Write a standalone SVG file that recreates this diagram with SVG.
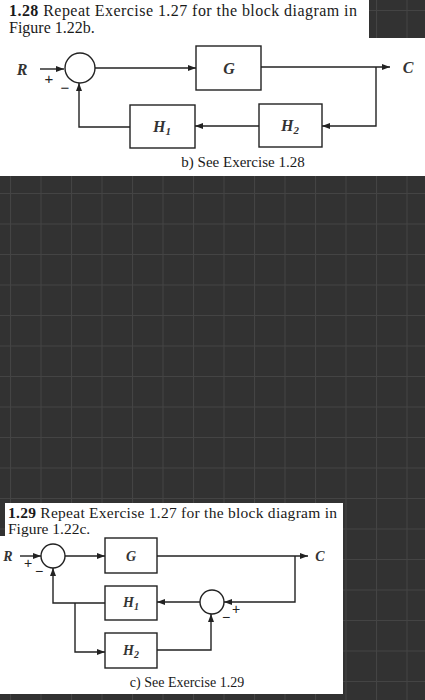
<svg xmlns="http://www.w3.org/2000/svg" width="425" height="700" viewBox="0 0 425 700">
<defs>
<pattern id="grid" x="10" y="10" width="30.5" height="30.5" patternUnits="userSpaceOnUse">
<rect width="30.5" height="30.5" fill="#323232"/>
<path d="M0,0 V30.5 M0,0 H30.5" stroke="#444" stroke-width="2"/>
</pattern>
<marker id="arr" markerUnits="userSpaceOnUse" markerWidth="9" markerHeight="7" refX="8" refY="3" orient="auto">
<path d="M0,0 L8,3 L0,6 z" fill="#222"/>
</marker>
</defs>
<style>
.w{fill:#fff}
.ln{fill:none;stroke:#222;stroke-width:1.4}
.box{fill:#fff;stroke:#222;stroke-width:1.4}
.t{font-family:"Liberation Serif",serif;fill:#1a1a1a}
.lab{font-family:"Liberation Serif",serif;font-style:italic;font-weight:bold;fill:#333;text-anchor:middle}
.sg{font-family:"Liberation Sans",sans-serif;fill:#222;text-anchor:middle}
</style>
<rect width="425" height="700" fill="url(#grid)"/>

<!-- top panel -->
<rect class="w" x="0" y="0" width="369" height="39"/>
<rect class="w" x="0" y="38" width="425" height="138"/>
<text class="t" x="9" y="16" font-size="16" textLength="348" lengthAdjust="spacing"><tspan font-weight="bold">1.28</tspan>  Repeat Exercise 1.27 for the block diagram in</text>
<text class="t" x="9" y="33" font-size="16">Figure 1.22b.</text>

<g id="connectors-b">
<line class="ln" x1="40" y1="69" x2="64" y2="69" marker-end="url(#arr)"/>
<line class="ln" x1="95" y1="68" x2="196" y2="68" marker-end="url(#arr)"/>
<line class="ln" x1="261" y1="67" x2="390" y2="67" marker-end="url(#arr)"/>
<polyline class="ln" points="376,67 376,126 322,126" marker-end="url(#arr)"/>
<line class="ln" x1="259" y1="126" x2="195" y2="126" marker-end="url(#arr)"/>
<polyline class="ln" points="130,127 79,127 79,83" marker-end="url(#arr)"/>
</g>
<g id="sum-b">
<circle class="box" cx="80" cy="68" r="15"/>
<text class="sg" x="49" y="84" font-size="15">+</text>
<text class="sg" x="65" y="93" font-size="15">−</text>
</g>
<g id="R-b"><text class="lab" x="22" y="75" font-size="16">R</text></g>
<g id="C-b"><text class="lab" x="408" y="73" font-size="16">C</text></g>
<g id="G-b">
<rect class="box" x="196" y="46" width="65" height="44"/>
<text class="lab" x="229" y="74" font-size="16">G</text>
</g>
<g id="H2-b">
<rect class="box" x="259" y="104" width="63" height="43"/>
<text class="lab" x="290" y="131" font-size="16">H<tspan font-size="11" dy="3">2</tspan></text>
</g>
<g id="H1-b">
<rect class="box" x="130" y="105" width="65" height="43"/>
<text class="lab" x="162" y="132" font-size="16">H<tspan font-size="11" dy="3">1</tspan></text>
</g>
<text class="t" x="243" y="167" font-size="15" text-anchor="middle">b) See Exercise 1.28</text>

<!-- bottom panel -->
<rect class="w" x="5" y="503" width="338" height="34"/>
<rect class="w" x="0" y="536" width="343" height="158"/>
<text class="t" x="8" y="518" font-size="15.5" textLength="329" lengthAdjust="spacing"><tspan font-weight="bold">1.29</tspan>  Repeat Exercise 1.27 for the block diagram in</text>
<text class="t" x="8" y="534" font-size="15.5">Figure 1.22c.</text>

<g id="connectors-c">
<line class="ln" x1="20" y1="556" x2="41" y2="556" marker-end="url(#arr)"/>
<line class="ln" x1="65" y1="556" x2="105" y2="556" marker-end="url(#arr)"/>
<line class="ln" x1="157" y1="556" x2="308" y2="556" marker-end="url(#arr)"/>
<polyline class="ln" points="295,556 295,602 224,602" marker-end="url(#arr)"/>
<line class="ln" x1="200" y1="602" x2="157" y2="602" marker-end="url(#arr)"/>
<polyline class="ln" points="105,603 53,603 53,568" marker-end="url(#arr)"/>
<polyline class="ln" points="75,603 75,652 105,652" marker-end="url(#arr)"/>
<polyline class="ln" points="157,650 211,650 211,614" marker-end="url(#arr)"/>
</g>
<g id="sum1-c">
<circle class="box" cx="53" cy="556" r="12"/>
<text class="sg" x="28" y="568" font-size="14">+</text>
<text class="sg" x="39" y="576" font-size="14">−</text>
</g>
<g id="sum2-c">
<circle class="box" cx="212" cy="602" r="12"/>
<text class="sg" x="236" y="614" font-size="14">+</text>
<text class="sg" x="226" y="622" font-size="14">−</text>
</g>
<g id="R-c"><text class="lab" x="8" y="561" font-size="14">R</text></g>
<g id="C-c"><text class="lab" x="320" y="561" font-size="14">C</text></g>
<g id="G-c">
<rect class="box" x="105" y="538" width="52" height="35"/>
<text class="lab" x="131" y="561" font-size="14">G</text>
</g>
<g id="H1-c">
<rect class="box" x="105" y="586" width="52" height="34"/>
<text class="lab" x="131" y="607" font-size="14">H<tspan font-size="10" dy="3">1</tspan></text>
</g>
<g id="H2-c">
<rect class="box" x="105" y="633" width="52" height="35"/>
<text class="lab" x="131" y="655" font-size="14">H<tspan font-size="10" dy="3">2</tspan></text>
</g>
<text class="t" x="187" y="687" font-size="14" text-anchor="middle">c) See Exercise 1.29</text>
</svg>
